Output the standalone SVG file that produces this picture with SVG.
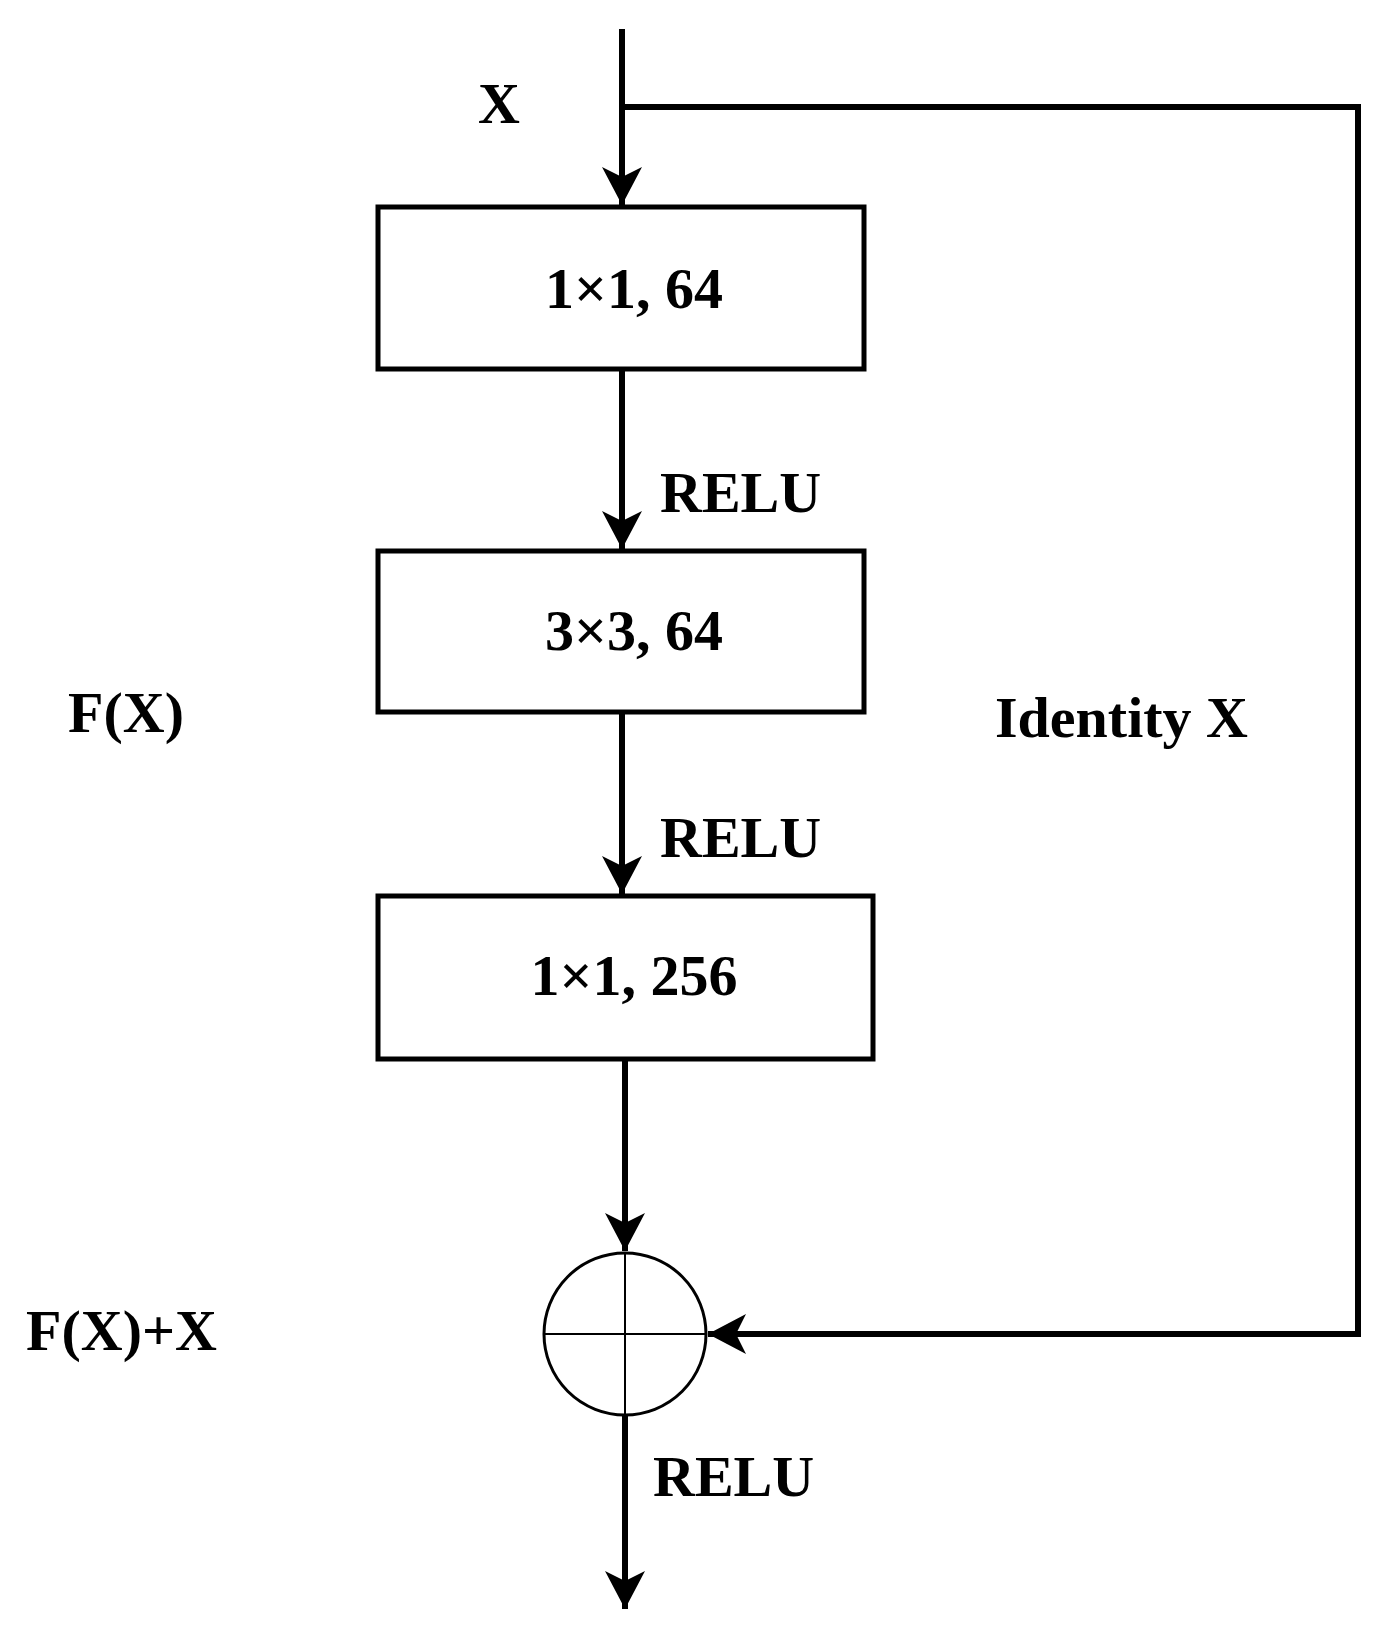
<svg xmlns="http://www.w3.org/2000/svg" width="1384" height="1648" viewBox="0 0 1384 1648">
<style>
.l{stroke:#000;stroke-width:6;fill:none}
.b{fill:#fff;stroke:#000;stroke-width:5}
text{font-family:"Liberation Serif",serif;font-weight:bold;font-size:58px;fill:#000}
.c{text-anchor:middle}
</style>
<defs><marker id="a" markerUnits="userSpaceOnUse" markerWidth="40" markerHeight="50" refX="38" refY="20" orient="auto"><path d="M0,0 L38,20 L0,40 L10,20 Z" fill="#000"/></marker></defs>
<rect width="1384" height="1648" fill="#fff"/>
<g id="connectors">
<line class="l" x1="622" y1="29" x2="622" y2="205" marker-end="url(#a)"/>
<line class="l" x1="622" y1="369" x2="622" y2="549" marker-end="url(#a)"/>
<line class="l" x1="622" y1="712" x2="622" y2="894" marker-end="url(#a)"/>
<line class="l" x1="625" y1="1059" x2="625" y2="1251" marker-end="url(#a)"/>
<polyline class="l" points="622,107 1358,107 1358,1334 708,1334" marker-end="url(#a)"/>
<line class="l" x1="625" y1="1415" x2="625" y2="1609" marker-end="url(#a)"/>
</g>
<g id="n1"><rect class="b" x="378" y="207" width="486" height="162"/><text class="c" x="634" y="308">1×1,  64</text></g>
<g id="n2"><rect class="b" x="378" y="551" width="486" height="161"/><text class="c" x="634" y="650">3×3,  64</text></g>
<g id="n3"><rect class="b" x="378" y="896" width="495" height="163"/><text class="c" x="634" y="995">1×1, 256</text></g>
<g id="sum"><circle cx="625" cy="1334" r="81" fill="#fff" stroke="#000" stroke-width="3"/><line x1="544" y1="1334" x2="706" y2="1334" stroke="#000" stroke-width="2"/><line x1="625" y1="1253" x2="625" y2="1415" stroke="#000" stroke-width="2"/></g>
<g id="labels">
<text x="478" y="123">X</text>
<text x="660" y="512">RELU</text>
<text x="660" y="857">RELU</text>
<text x="653" y="1496">RELU</text>
<text x="68" y="732">F(X)</text>
<text x="26" y="1350">F(X)+X</text>
<text x="995" y="737">Identity X</text>
</g>
</svg>
